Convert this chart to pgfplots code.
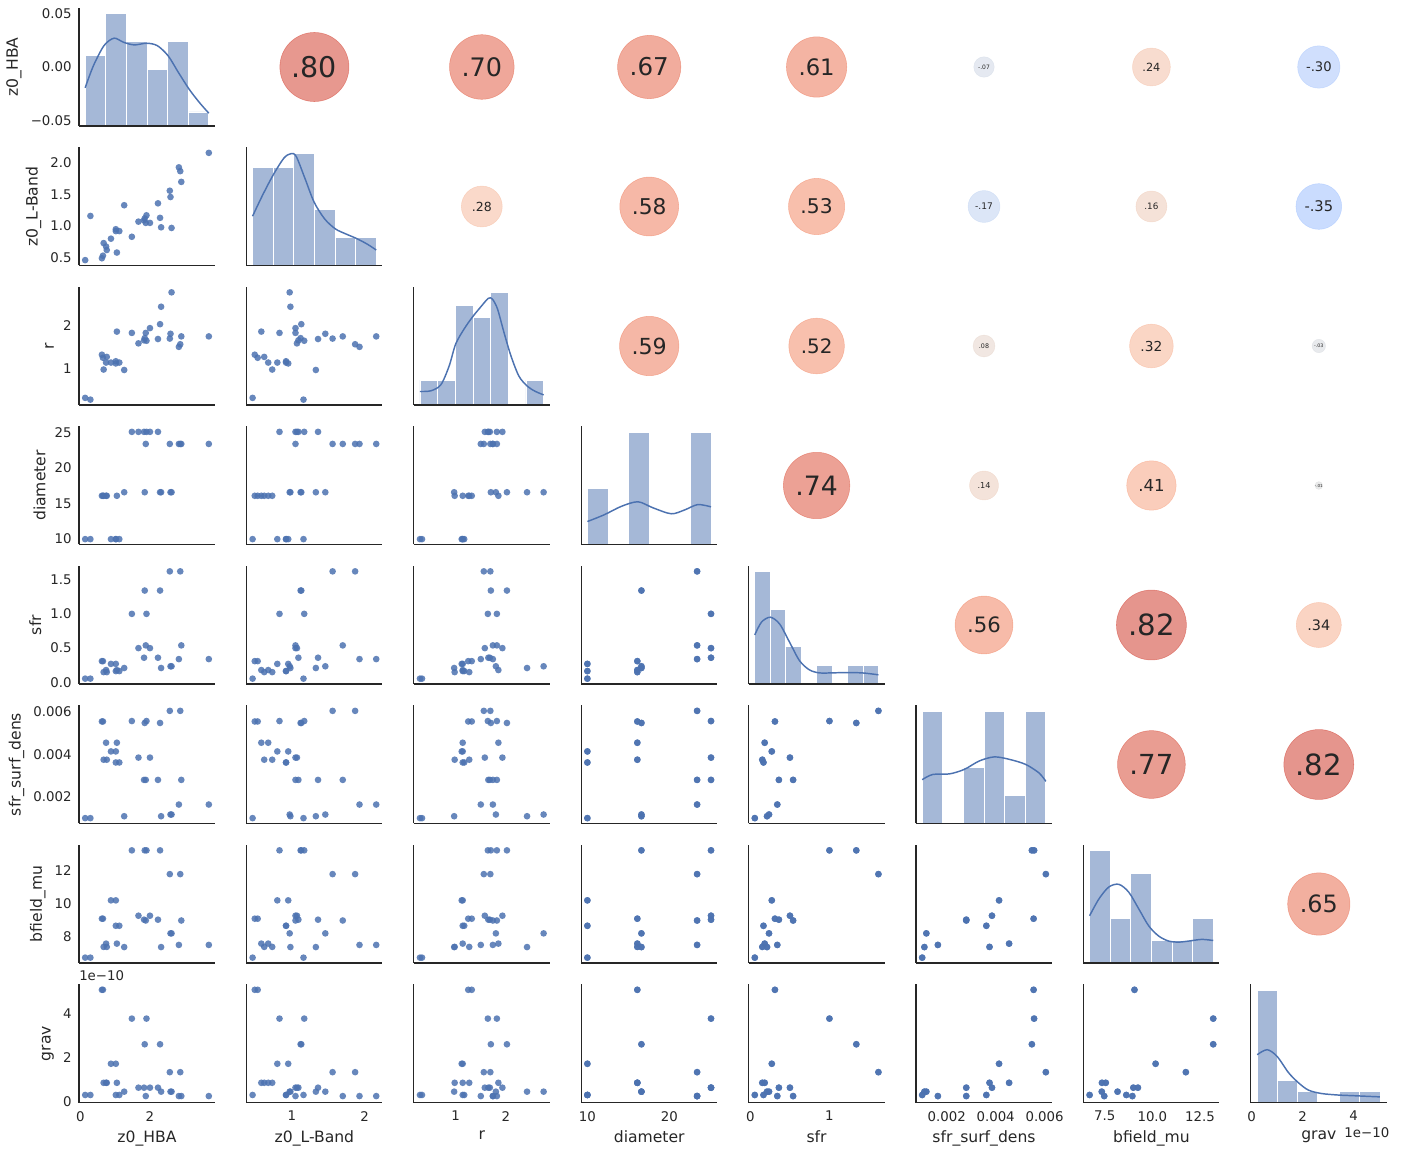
\documentclass[border=0pt]{standalone}
\usepackage{fontspec}
\setmainfont{DejaVu Sans}
\usepackage{pgfplots}
\usepackage{pgfplotstable}
\pgfplotsset{compat=1.18}
\definecolor{dotc}{RGB}{76,114,176}
\definecolor{axc}{RGB}{38,38,38}
\pgfplotsset{colormap={coolwarm}{rgb255=(59,76,192) rgb255=(68,90,204) rgb255=(77,104,215) rgb255=(87,117,225) rgb255=(98,130,234) rgb255=(108,142,241) rgb255=(119,154,247) rgb255=(130,165,251) rgb255=(141,176,254) rgb255=(152,185,255) rgb255=(163,194,255) rgb255=(174,201,253) rgb255=(184,208,249) rgb255=(194,213,244) rgb255=(204,217,238) rgb255=(213,219,230) rgb255=(221,221,221) rgb255=(229,216,209) rgb255=(236,211,197) rgb255=(241,204,185) rgb255=(245,196,173) rgb255=(247,187,160) rgb255=(247,177,148) rgb255=(247,166,135) rgb255=(244,154,123) rgb255=(241,141,111) rgb255=(236,127,99) rgb255=(229,112,88) rgb255=(222,96,77) rgb255=(213,80,66) rgb255=(203,62,56) rgb255=(192,40,47) rgb255=(180,4,38)}}
\pgfplotsset{
 pp/.style={scale only axis, width=102pt, height=88.5pt, anchor=south west,
   axis lines*=left, axis line style={draw=axc, line width=0.9pt, -},
   major tick length=0pt, tick style={draw=none}, clip=false,
   scaled ticks=false, xticklabels={}, yticklabels={},
   ticklabel style={font=\fontsize{10}{12}\selectfont, text=axc},
   xticklabel style={yshift=-3pt}, yticklabel style={xshift=-2pt},
   label style={font=\fontsize{11.7}{14}\selectfont, text=axc}},
 sc/.style={only marks, mark=*, mark size=2.5pt, mark options={fill=dotc, draw=dotc, draw opacity=0, fill opacity=0.85}},
 hb/.style={ybar interval, fill=dotc, fill opacity=0.5, draw=white, line width=0.6pt},
 kde/.style={no marks, smooth, color=dotc, line width=1.1pt},
 c1/.style={xmin=-0.0375, xmax=3.8675, xtick={0,2}},
 c1l/.style={xticklabels={0,2}, xlabel={z0\_HBA}},
 c2/.style={xmin=0.375, xmax=2.245, xtick={1,2}},
 c2l/.style={xticklabels={1,2}, xlabel={z0\_L-Band}},
 c3/.style={xmin=0.167, xmax=2.873, xtick={1,2}},
 c3l/.style={xticklabels={1,2}, xlabel={r}},
 c4/.style={xmin=9.245, xmax=25.855, xtick={10,20}},
 c4l/.style={xticklabels={10,20}, xlabel={diameter}},
 c5/.style={xmin=-0.02325, xmax=1.69825, xtick={0,1}},
 c5l/.style={xticklabels={0,1}, xlabel={sfr}},
 c6/.style={xmin=0.0007475, xmax=0.0063025, xtick={0.002,0.004,0.006}},
 c6l/.style={xticklabels={0.002,0.004,0.006}, xlabel={sfr\_surf\_dens}},
 c7/.style={xmin=6.375, xmax=13.525, xtick={7.5,10,12.5}},
 c7l/.style={xticklabels={7.5,10.0,12.5}, xlabel={bfield\_mu}},
 c8/.style={xmin=-0.03, xmax=5.30, xtick={0,2,4}},
 c8l/.style={xticklabels={0,2,4}, xlabel={grav}},
 r2/.style={ymin=0.375, ymax=2.245, ytick={0.5,1,1.5,2}},
 r2l/.style={yticklabels={0.5,1.0,1.5,2.0}, ylabel={z0\_L-Band}},
 r3/.style={ymin=0.167, ymax=2.873, ytick={1,2}},
 r3l/.style={yticklabels={1,2}, ylabel={r}},
 r4/.style={ymin=9.245, ymax=25.855, ytick={10,15,20,25}},
 r4l/.style={yticklabels={10,15,20,25}, ylabel={diameter}},
 r5/.style={ymin=-0.02325, ymax=1.69825, ytick={0,0.5,1,1.5}},
 r5l/.style={yticklabels={0.0,0.5,1.0,1.5}, ylabel={sfr}},
 r6/.style={ymin=0.0007475, ymax=0.0063025, ytick={0.002,0.004,0.006}},
 r6l/.style={yticklabels={0.002,0.004,0.006}, ylabel={sfr\_surf\_dens}},
 r7/.style={ymin=6.375, ymax=13.525, ytick={8,10,12}},
 r7l/.style={yticklabels={8,10,12}, ylabel={bfield\_mu}},
 r8/.style={ymin=-0.03, ymax=5.30, ytick={0,2,4}},
 r8l/.style={yticklabels={0,2,4}, ylabel={grav}},
 ov/.style={at={(0pt,0pt)}, anchor=south west, scale only axis, width=1062pt, height=861.75pt,
  xmin=0, xmax=1416, ymin=0, ymax=1149, y dir=reverse, hide axis, clip=false},
}
% galaxy rows; grav in units of 1e-10
\pgfplotstableread{
hba lb r d sfr ssd bf gv
0.14 0.46 0.33 10 0.055 0.00100 6.70 0.31
0.29 1.16 0.29 10 0.055 0.00100 6.70 0.31
0.67 0.73 0.98 16.1 0.15 0.00375 7.35 0.86
0.76 0.62 1.27 16.1 0.15 0.00375 7.35 0.86
1.02 0.92 1.17 10 0.165 0.00362 8.63 0.31
1.12 0.92 1.14 10 0.165 0.00362 8.63 0.31
0.74 0.675 1.14 16.1 0.18 0.00455 7.55 0.86
1.05 0.58 1.85 16.1 0.18 0.00455 7.55 0.86
1.26 1.33 0.97 16.6 0.21 0.00109 7.34 0.46
2.32 0.98 2.42 16.6 0.21 0.00109 7.34 0.46
2.59 1.46 1.80 16.6 0.235 0.00117 8.17 0.46
2.62 0.97 2.75 16.6 0.235 0.00117 8.17 0.46
0.88 0.80 1.14 10 0.27 0.00414 10.17 1.72
1.02 0.95 1.12 10 0.27 0.00414 10.17 1.72
0.62 0.49 1.32 16.1 0.31 0.00555 9.06 5.06
0.65 0.53 1.25 16.1 0.31 0.00555 9.06 5.06
2.83 1.93 1.50 23.4 0.34 0.00164 7.47 0.26
3.69 2.16 1.74 23.4 0.34 0.00164 7.47 0.26
1.83 1.09 1.65 25.1 0.36 0.00280 9.00 0.64
2.23 1.36 1.68 25.1 0.36 0.00280 9.00 0.64
1.67 1.07 1.58 25.1 0.50 0.00385 9.24 0.64
2.00 1.05 1.93 25.1 0.50 0.00385 9.24 0.64
1.88 1.05 1.82 23.4 0.54 0.00280 8.95 0.26
2.90 1.70 1.74 23.4 0.54 0.00280 8.95 0.26
1.48 0.83 1.82 25.1 1.00 0.00557 13.2 3.76
1.90 1.17 1.64 25.1 1.00 0.00557 13.2 3.76
1.85 1.12 1.70 16.6 1.34 0.00548 13.2 2.60
2.29 1.13 2.02 16.6 1.34 0.00548 13.2 2.60
2.57 1.56 1.69 23.4 1.62 0.00605 11.76 1.34
2.87 1.87 1.56 23.4 1.62 0.00605 11.76 1.34
}\data
\pgfplotstableread{
x y c
314.4 67 0.80
481.8 67 0.70
649.2 67 0.67
816.6 67 0.61
984 67 -0.07
1151.4 67 0.24
1318.8 67 -0.30
481.8 206.5 0.28
649.2 206.5 0.58
816.6 206.5 0.53
984 206.5 -0.17
1151.4 206.5 0.16
1318.8 206.5 -0.35
649.2 346 0.59
816.6 346 0.52
984 346 0.08
1151.4 346 0.32
1318.8 346 -0.03
816.6 485.5 0.74
984 485.5 0.14
1151.4 485.5 0.41
1318.8 485.5 -0.01
984 625 0.56
1151.4 625 0.82
1318.8 625 0.34
1151.4 764.5 0.77
1318.8 764.5 0.82
1318.8 904 0.65
}\corrs
% scatter panel: #1 x pos, #2 y pos, #3 x column, #4 y column, #5 options
\newcommand{\scp}[5]{%
\begin{axis}[pp, at={(#1pt,#2pt)}, #5]
\addplot[sc] table[x=#3,y=#4]{\data};
\end{axis}}
\newcommand{\ct}[4]{\node[font=\fontsize{#3}{#3}\selectfont, text=axc] at (axis cs:#1,#2) {#4};}
\begin{document}
\begin{tikzpicture}
\useasboundingbox (0,0) rectangle (1062pt,861.75pt);
% ---------- diagonal ----------
\begin{axis}[pp, axis on top, at={(59.25pt,767.25pt)}, c1, ymin=0, ymax=8.4, ytick={0.382,4.2,8.018}, yticklabels={−0.05,0.00,0.05}, ylabel={z0\_HBA}]
\addplot[hb] coordinates {(0.14,5) (0.7317,8) (1.3233,6) (1.915,4) (2.5067,6) (3.0983,1) (3.69,0)};
\addplot[kde] coordinates {(0.14,2.72) (0.375,4.28) (0.68,5.72) (0.97,6.25) (1.24,5.96) (1.55,5.77) (1.905,5.89) (2.21,5.72) (2.52,5.0) (2.82,3.8) (3.13,2.6) (3.43,1.64) (3.69,0.91)};
\end{axis}
\begin{axis}[pp, axis on top, at={(184.8pt,662.625pt)}, c2, ymin=0, ymax=8.4, ytick=\empty]
\addplot[hb] coordinates {(0.46,7) (0.7433,7) (1.0267,8) (1.31,4) (1.5933,2) (1.8767,2) (2.16,0)};
\addplot[kde] coordinates {(0.46,3.51) (0.597,5.0) (0.743,6.44) (0.89,7.64) (0.987,7.96) (1.06,7.76) (1.18,6.2) (1.305,4.52) (1.45,3.32) (1.6,2.6) (1.745,2.24) (1.89,1.92) (2.04,1.51) (2.16,1.1)};
\end{axis}
\begin{axis}[pp, axis on top, at={(310.35pt,558pt)}, c3, ymin=0, ymax=9.45, ytick=\empty]
\addplot[hb] coordinates {(0.29,2) (0.6414,2) (0.9929,8) (1.3443,7) (1.6957,9) (2.0471,0) (2.3986,2) (2.75,0)};
\addplot[kde] coordinates {(0.29,1.08) (0.51,1.14) (0.707,1.63) (0.87,3.12) (1.0,4.88) (1.17,6.1) (1.335,7.05) (1.5,7.86) (1.65,8.54) (1.73,8.48) (1.83,7.72) (1.96,5.83) (2.1,3.93) (2.26,2.3) (2.43,1.49) (2.59,1.08) (2.75,0.81)};
\end{axis}
\begin{axis}[pp, axis on top, at={(435.9pt,453.375pt)}, c4, ymin=0, ymax=12.6, ytick=\empty]
\addplot[hb] coordinates {(10,6) (12.517,0) (15.033,12) (17.55,0) (20.067,0) (22.583,12) (25.1,0)};
\addplot[kde] coordinates {(10,2.45) (12.1,3.19) (14.14,4.07) (16.17,4.56) (18.0,3.92) (20.23,3.28) (21.85,3.68) (23.48,4.26) (25.1,4.02)};
\end{axis}
\begin{axis}[pp, axis on top, at={(561.45pt,348.75pt)}, c5, ymin=0, ymax=12.6, ytick=\empty]
\addplot[hb] coordinates {(0.055,12) (0.2506,8) (0.4463,4) (0.6419,0) (0.8375,2) (1.0331,0) (1.2288,2) (1.4244,2) (1.62,0)};
\addplot[kde] coordinates {(0.055,5.24) (0.139,6.6) (0.252,7.13) (0.37,6.4) (0.496,4.45) (0.622,2.48) (0.748,1.5) (0.874,1.18) (1.0,1.18) (1.21,1.22) (1.42,1.18) (1.62,0.98)};
\end{axis}
\begin{axis}[pp, axis on top, at={(687pt,244.125pt)}, c6, ymin=0, ymax=8.4, ytick=\empty]
\addplot[hb] coordinates {(0.001,8) (0.001842,0) (0.002683,4) (0.003525,8) (0.004367,2) (0.005208,8) (0.00605,0)};
\addplot[kde] coordinates {(0.001,3.12) (0.00143,3.49) (0.00211,3.53) (0.00272,3.85) (0.00333,4.45) (0.00394,4.74) (0.00455,4.57) (0.00522,4.21) (0.00577,3.6) (0.00605,3.0)};
\end{axis}
\begin{axis}[pp, axis on top, at={(812.55pt,139.5pt)}, c7, ymin=0, ymax=10.5, ytick=\empty]
\addplot[hb] coordinates {(6.7,10) (7.7833,4) (8.8667,8) (9.95,2) (11.0333,2) (12.1167,4) (13.2,0)};
\addplot[kde] coordinates {(6.7,4.2) (7.19,5.7) (7.71,6.76) (8.24,7.0) (8.76,6.3) (9.29,4.8) (9.81,3.3) (10.33,2.4) (10.86,1.95) (11.38,1.86) (11.91,1.95) (12.6,2.1) (13.2,2.0)};
\end{axis}
\begin{axis}[pp, axis on top, at={(938.1pt,34.875pt)}, c8, c8l, ymin=0, ymax=21, ytick=\empty]
\addplot[hb] coordinates {(0.22,20) (1.01,4) (1.8,2) (2.59,0) (3.45,2) (4.24,2) (5.03,0)};
\addplot[kde] coordinates {(0.22,8.5) (0.61,9.4) (1.0,8.2) (1.45,5.3) (1.84,3.5) (2.23,2.2) (2.74,1.6) (3.39,1.33) (4.04,1.2) (5.03,1.0)};
\node[anchor=north east, font=\fontsize{10}{12}\selectfont, text=axc, inner sep=0pt] at (rel axis cs:1.02,0) [yshift=-19pt] {1e−10};
\end{axis}
% ---------- lower triangle ----------
\scp{59.25}{662.625}{hba}{lb}{c1,r2,r2l}
\scp{59.25}{558}{hba}{r}{c1,r3,r3l}
\scp{184.8}{558}{lb}{r}{c2,r3}
\scp{59.25}{453.375}{hba}{d}{c1,r4,r4l}
\scp{184.8}{453.375}{lb}{d}{c2,r4}
\scp{310.35}{453.375}{r}{d}{c3,r4}
\scp{59.25}{348.75}{hba}{sfr}{c1,r5,r5l}
\scp{184.8}{348.75}{lb}{sfr}{c2,r5}
\scp{310.35}{348.75}{r}{sfr}{c3,r5}
\scp{435.9}{348.75}{d}{sfr}{c4,r5}
\scp{59.25}{244.125}{hba}{ssd}{c1,r6,r6l}
\scp{184.8}{244.125}{lb}{ssd}{c2,r6}
\scp{310.35}{244.125}{r}{ssd}{c3,r6}
\scp{435.9}{244.125}{d}{ssd}{c4,r6}
\scp{561.45}{244.125}{sfr}{ssd}{c5,r6}
\scp{59.25}{139.5}{hba}{bf}{c1,r7,r7l}
\scp{184.8}{139.5}{lb}{bf}{c2,r7}
\scp{310.35}{139.5}{r}{bf}{c3,r7}
\scp{435.9}{139.5}{d}{bf}{c4,r7}
\scp{561.45}{139.5}{sfr}{bf}{c5,r7}
\scp{687}{139.5}{ssd}{bf}{c6,r7}
\begin{axis}[pp, at={(59.25pt,34.875pt)}, c1, c1l, r8, r8l]
\addplot[sc] table[x=hba,y=gv]{\data};
\node[anchor=south west, font=\fontsize{10}{12}\selectfont, text=axc, inner sep=0pt] at (rel axis cs:0,1) [yshift=3pt] {1e−10};
\end{axis}
\scp{184.8}{34.875}{lb}{gv}{c2,c2l,r8}
\scp{310.35}{34.875}{r}{gv}{c3,c3l,r8}
\scp{435.9}{34.875}{d}{gv}{c4,c4l,r8}
\scp{561.45}{34.875}{sfr}{gv}{c5,c5l,r8}
\scp{687}{34.875}{ssd}{gv}{c6,c6l,r8}
\scp{812.55}{34.875}{bf}{gv}{c7,c7l,r8}
% ---------- upper triangle: correlation dots ----------
\begin{axis}[ov, colormap name=coolwarm, point meta min=-1, point meta max=1]
\addplot[scatter, only marks, mark=*, point meta=explicit,
  scatter/use mapped color={draw=mapped color, fill=mapped color, opacity=0.6},
  visualization depends on={28.95*sqrt(abs(\thisrow{c})) \as \msz},
  scatter/@pre marker code/.append style={/tikz/mark size=\msz pt}]
  table[x=x, y=y, meta=c] {\corrs};
\end{axis}
\begin{axis}[ov]
\ct{314.4}{67}{21.4}{.80}
\ct{481.8}{67}{19.1}{.70}
\ct{649.2}{67}{18.4}{.67}
\ct{816.6}{67}{17.0}{.61}
\ct{984}{67}{4.5}{-.07}
\ct{1151.4}{67}{8.45}{.24}
\ct{1318.8}{67}{9.84}{-.30}
\ct{481.8}{206.5}{9.38}{.28}
\ct{649.2}{206.5}{16.3}{.58}
\ct{816.6}{206.5}{15.2}{.53}
\ct{984}{206.5}{6.83}{-.17}
\ct{1151.4}{206.5}{6.6}{.16}
\ct{1318.8}{206.5}{11.0}{-.35}
\ct{649.2}{346}{16.6}{.59}
\ct{816.6}{346}{14.9}{.52}
\ct{984}{346}{4.75}{.08}
\ct{1151.4}{346}{10.3}{.32}
\ct{1318.8}{346}{3.6}{-.03}
\ct{816.6}{485.5}{20.0}{.74}
\ct{984}{485.5}{6.1}{.14}
\ct{1151.4}{485.5}{12.4}{.41}
\ct{1318.8}{485.5}{3.1}{-.01}
\ct{984}{625}{15.9}{.56}
\ct{1151.4}{625}{21.9}{.82}
\ct{1318.8}{625}{10.8}{.34}
\ct{1151.4}{764.5}{20.7}{.77}
\ct{1318.8}{764.5}{21.9}{.82}
\ct{1318.8}{904}{17.9}{.65}
\end{axis}
\end{tikzpicture}
\end{document}
